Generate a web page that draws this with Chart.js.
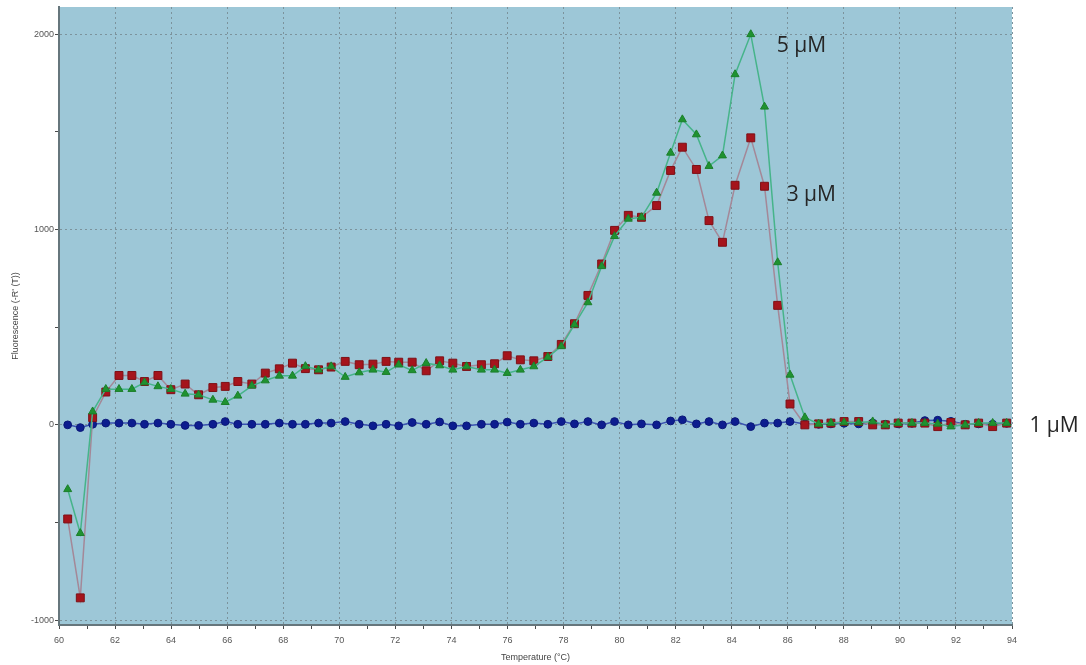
<!DOCTYPE html>
<html>
<head>
<meta charset="utf-8">
<title>Melt curve derivative</title>
<script src="https://cdn.jsdelivr.net/npm/chart.js@4.4.1/dist/chart.umd.min.js"></script>
<style>
  html, body { margin: 0; padding: 0; background: #ffffff; }
  #wrap { width: 1086px; height: 665px; }
</style>
</head>
<body>
<div id="wrap"><canvas id="melt" width="1086" height="665"></canvas></div>
<script>
// Temperature of each reading (°C)
const temperatures = [
  60.31, 60.76, 61.20, 61.67, 62.14, 62.60, 63.05, 63.53, 63.99, 64.50,
  64.98, 65.49, 65.93, 66.38, 66.88, 67.36, 67.86, 68.33, 68.79, 69.26,
  69.71, 70.21, 70.71, 71.20, 71.67, 72.12, 72.60, 73.10, 73.58, 74.05,
  74.54, 75.07, 75.54, 75.99, 76.46, 76.94, 77.44, 77.92, 78.39, 78.87,
  79.36, 79.82, 80.31, 80.78, 81.32, 81.82, 82.24, 82.74, 83.19, 83.67,
  84.12, 84.68, 85.17, 85.64, 86.08, 86.61, 87.10, 87.54, 88.01, 88.53,
  89.03, 89.48, 89.94, 90.43, 90.89, 91.35, 91.82, 92.33, 92.81, 93.31,
  93.81
];

// -R'(T) for the 5 µM sample
const fluor5uM = [
  -330, -555, 68, 183, 183, 183, 217, 197, 183, 159,
  154, 128, 116, 149, 200, 227, 251, 251, 300, 282,
  299, 245, 268, 282, 270, 308, 279, 316, 304, 282,
  299, 282, 282, 265, 282, 299, 347, 402, 513, 627,
  812, 966, 1055, 1063, 1188, 1393, 1564, 1487, 1325, 1379,
  1795, 2000, 1629, 832, 256, 38, 5, 9, 12, 12,
  17, 0, 9, 9, 9, 5, -9, 0, 9, 9,
  9
];

// -R'(T) for the 3 µM sample
const fluor3uM = [
  -482, -886, 37, 168, 253, 253, 222, 253, 180, 209,
  154, 191, 197, 222, 209, 265, 287, 316, 288, 282,
  296, 325, 308, 311, 325, 321, 321, 277, 328, 316,
  299, 308, 313, 354, 333, 328, 350, 412, 518, 663,
  824, 996, 1073, 1063, 1123, 1303, 1422, 1308, 1046, 935,
  1227, 1470, 1222, 612, 107, 0, 5, 9, 17, 17,
  0, 0, 9, 9, 9, -9, 12, 0, 9, -9,
  9
];

// -R'(T) for the 1 µM sample
const fluor1uM = [
  0, -14, 3, 9, 9, 9, 3, 9, 3, -3,
  -3, 3, 17, 3, 3, 3, 9, 3, 3, 9,
  9, 17, 3, -5, 3, -5, 12, 3, 15, -5,
  -5, 3, 3, 14, 3, 9, 3, 17, 5, 17,
  0, 17, 0, 5, 0, 20, 26, 5, 17, 0,
  17, -9, 9, 9, 17, 5, 3, 5, 8, 5,
  10, 3, 5, 8, 22, 24, 18, 3, 5, 3,
  8
];

// Axis ticks
const xTickValues = [];
for (let t = 60; t <= 94; t++) xTickValues.push(t);
const yTickValues = [-1000, -500, 0, 500, 1000, 1500, 2000];

const seriesNames = ['5 µM', '3 µM', '1 µM'];

const toPoints = (vals) => vals.map((v, i) => ({ x: temperatures[i], y: v }));

const PLOT_BG = '#9dc7d7';
const GRID_DOT = '#7c939c';
const AXIS_LINE = '#66767c';

// Light-blue plot panel behind the curves
const panelBackground = {
  id: 'panelBackground',
  beforeDraw(chart) {
    const { ctx, chartArea: a } = chart;
    ctx.save();
    ctx.fillStyle = PLOT_BG;
    ctx.fillRect(a.left, a.top, a.right - a.left, a.bottom - a.top);
    ctx.restore();
  }
};

// Concentration captions placed next to each curve
const seriesCaptions = {
  id: 'seriesCaptions',
  afterDatasetsDraw(chart) {
    const { ctx, scales: { x, y } } = chart;
    const anchors = [
      { text: seriesNames[0], t: 85.61, v: 1908 },
      { text: seriesNames[1], t: 85.96, v: 1149 },
      { text: seriesNames[2], t: 94.62, v: -36 }
    ];
    ctx.save();
    ctx.font = '21px "Open Sans", "Liberation Sans", sans-serif';
    ctx.fillStyle = '#262626';
    ctx.textAlign = 'left';
    ctx.textBaseline = 'alphabetic';
    anchors.forEach(a => {
      ctx.fillText(a.text, x.getPixelForValue(a.t), y.getPixelForValue(a.v));
    });
    ctx.restore();
  }
};

const tickFont = { family: '"Liberation Sans", Arial, sans-serif', size: 9 };

new Chart(document.getElementById('melt'), {
  type: 'line',
  data: {
    datasets: [
      {
        label: seriesNames[0],
        data: toPoints(fluor5uM),
        borderColor: '#46b48a',
        borderWidth: 1.5,
        pointStyle: 'triangle',
        pointRadius: 4.6,
        pointBackgroundColor: '#1f9230',
        pointBorderColor: '#1b7f2a',
        pointBorderWidth: 1
      },
      {
        label: seriesNames[1],
        data: toPoints(fluor3uM),
        borderColor: '#a48898',
        borderWidth: 1.5,
        pointStyle: 'rect',
        pointRadius: 5.6,
        pointBackgroundColor: '#a5141c',
        pointBorderColor: '#7e1016',
        pointBorderWidth: 1
      },
      {
        label: seriesNames[2],
        data: toPoints(fluor1uM),
        borderColor: '#3a52b0',
        borderWidth: 1.5,
        pointStyle: 'circle',
        pointRadius: 3.9,
        pointBackgroundColor: '#0d1d8f',
        pointBorderColor: '#0a1878',
        pointBorderWidth: 1
      }
    ]
  },
  options: {
    responsive: false,
    animation: false,
    devicePixelRatio: 1,
    layout: { padding: { top: 7, right: 74, left: 0, bottom: 0 } },
    elements: { line: { tension: 0, fill: false } },
    plugins: {
      legend: { display: false },
      tooltip: { enabled: false }
    },
    scales: {
      x: {
        type: 'linear',
        min: 60,
        max: 94,
        afterBuildTicks: (scale) => { scale.ticks = xTickValues.map(v => ({ value: v })); },
        afterFit: (scale) => { scale.height = 40; },
        ticks: {
          autoSkip: false,
          maxRotation: 0,
          padding: 6,
          color: '#555',
          font: tickFont,
          callback: (v) => (v % 2 === 0 ? String(v) : '')
        },
        grid: {
          color: (c) => (c.tick && c.tick.value % 2 === 0 ? GRID_DOT : 'rgba(0,0,0,0)'),
          lineWidth: 1,
          drawTicks: true,
          tickLength: 4,
          tickColor: '#4a4a4a',
          tickWidth: 1
        },
        border: { display: true, color: AXIS_LINE, width: 2, dash: [2, 3] },
        title: {
          display: true,
          text: 'Temperature (°C)',
          color: '#444',
          font: tickFont,
          padding: { top: 0, bottom: 2 }
        }
      },
      y: {
        type: 'linear',
        min: -1025,
        max: 2140,
        afterBuildTicks: (scale) => { scale.ticks = yTickValues.map(v => ({ value: v })); },
        afterFit: (scale) => { scale.width = 59; },
        ticks: {
          padding: 1,
          color: '#555',
          font: tickFont,
          callback: (v) => (v % 1000 === 0 ? String(v) : '')
        },
        grid: {
          color: (c) => (c.tick && c.tick.value % 1000 === 0 ? GRID_DOT : 'rgba(0,0,0,0)'),
          lineWidth: 1,
          drawTicks: true,
          tickLength: 4,
          tickColor: '#4a4a4a',
          tickWidth: 1
        },
        border: { display: true, color: AXIS_LINE, width: 2, dash: [2, 3] },
        title: {
          display: true,
          text: "Fluorescence (-R' (T))",
          color: '#444',
          font: tickFont,
          padding: { top: 10, bottom: 0 }
        }
      }
    }
  },
  plugins: [panelBackground, seriesCaptions]
});
</script>
</body>
</html>
